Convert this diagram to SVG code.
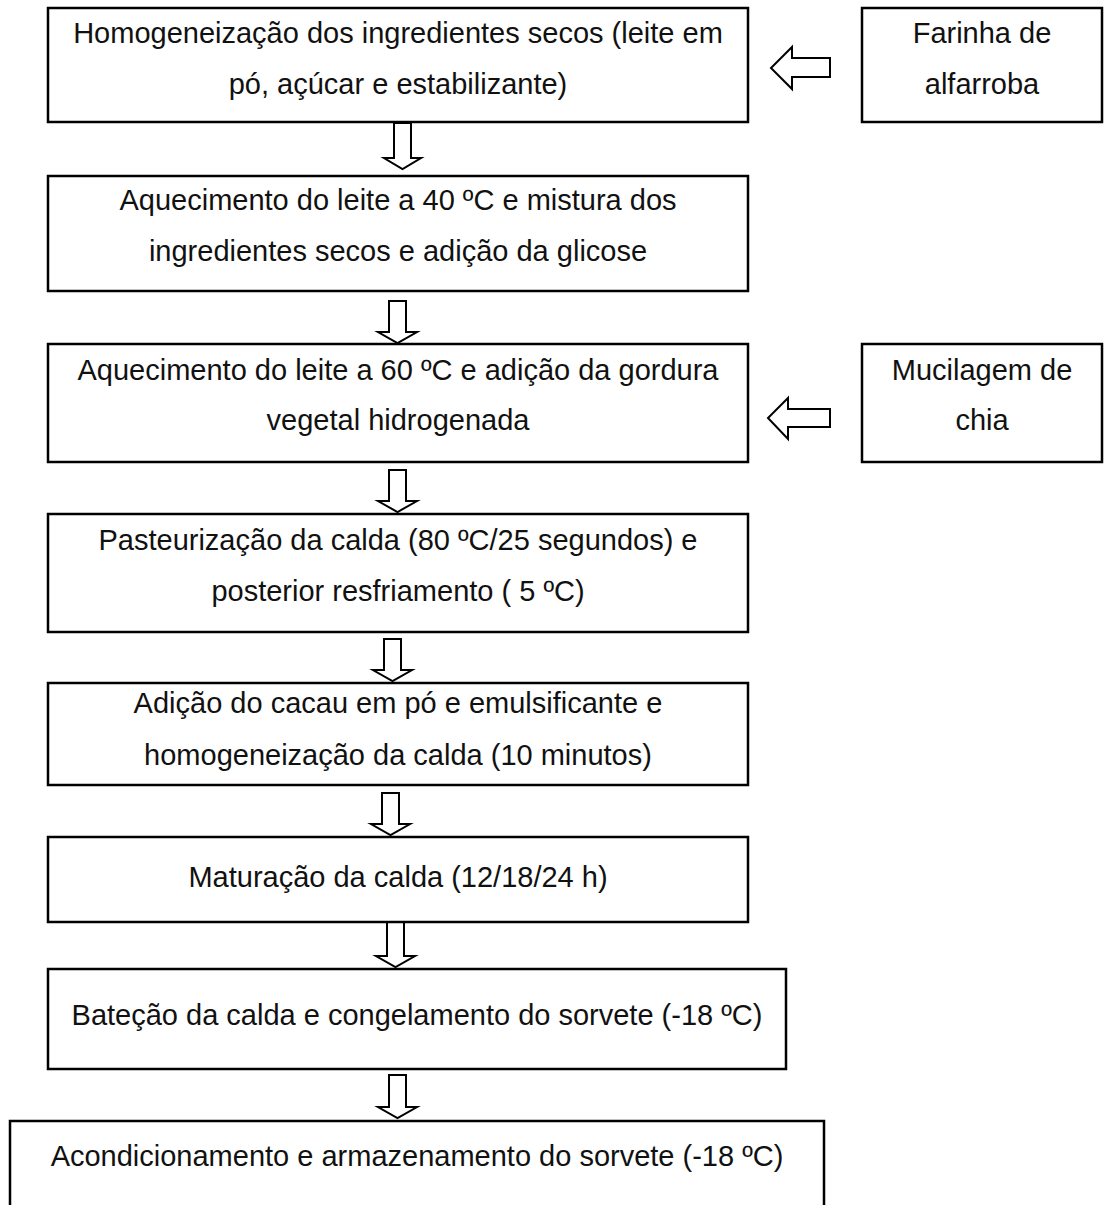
<svg xmlns="http://www.w3.org/2000/svg" width="1105" height="1205" viewBox="0 0 1105 1205">
<style>
.box{fill:#fff;stroke:#000;stroke-width:2.5}
.arr{fill:#fff;stroke:#000;stroke-width:2;stroke-linejoin:miter}
text{font-family:"Liberation Sans",Arial,sans-serif;font-size:29px;fill:#111;text-anchor:middle}
</style>
<rect width="1105" height="1205" fill="#fff"/>
<g id="connectors">
<polygon class="arr" points="394,123 411,123 411,158 421,158 402.5,169 384,158 394,158"/>
<polygon class="arr" points="389,301 406,301 406,332 417,332 397.5,343 378,332 389,332"/>
<polygon class="arr" points="389,470 406,470 406,501 417,501 397.5,512 378,501 389,501"/>
<polygon class="arr" points="384,639 401,639 401,670 412,670 392.5,681 373,670 384,670"/>
<polygon class="arr" points="382,793 399,793 399,824 410,824 390.5,835 371,824 382,824"/>
<polygon class="arr" points="387,922 404,922 404,956 415,956 395.5,967 376,956 387,956"/>
<polygon class="arr" points="389,1075 406,1075 406,1107 417,1107 397.5,1118 378,1107 389,1107"/>
<polygon class="arr" points="830,58 830,77 792,77 792,89 771,68 792,47 792,58"/>
<polygon class="arr" points="830,409 830,427 788,427 788,439 768,418 788,398 788,409"/>
</g>
<g id="n1"><rect class="box" x="48" y="8" width="700" height="114"/>
<text x="398" y="43">Homogeneização dos ingredientes secos (leite em</text>
<text x="398" y="94">pó, açúcar e estabilizante)</text></g>
<g id="n_farinha"><rect class="box" x="862" y="8" width="240" height="114"/>
<text x="982" y="43">Farinha de</text>
<text x="982" y="94">alfarroba</text></g>
<g id="n2"><rect class="box" x="48" y="176" width="700" height="115"/>
<text x="398" y="210">Aquecimento do leite a 40 ºC e mistura dos</text>
<text x="398" y="261">ingredientes secos e adição da glicose</text></g>
<g id="n3"><rect class="box" x="48" y="344" width="700" height="118"/>
<text x="398" y="380">Aquecimento do leite a 60 ºC e adição da gordura</text>
<text x="398" y="430">vegetal hidrogenada</text></g>
<g id="n_mucilagem"><rect class="box" x="862" y="344" width="240" height="118"/>
<text x="982" y="380">Mucilagem de</text>
<text x="982" y="430">chia</text></g>
<g id="n4"><rect class="box" x="48" y="514" width="700" height="118"/>
<text x="398" y="550">Pasteurização da calda (80 ºC/25 segundos) e</text>
<text x="398" y="601">posterior resfriamento ( 5 ºC)</text></g>
<g id="n5"><rect class="box" x="48" y="683" width="700" height="102"/>
<text x="398" y="713">Adição do cacau em pó e emulsificante e</text>
<text x="398" y="765">homogeneização da calda (10 minutos)</text></g>
<g id="n6"><rect class="box" x="48" y="837" width="700" height="85"/>
<text x="398" y="887">Maturação da calda (12/18/24 h)</text></g>
<g id="n7"><rect class="box" x="48" y="969" width="738" height="100"/>
<text x="417" y="1025">Bateção da calda e congelamento do sorvete (-18 ºC)</text></g>
<g id="n8"><rect class="box" x="10" y="1121" width="814" height="100"/>
<text x="417" y="1166">Acondicionamento e armazenamento do sorvete (-18 ºC)</text></g>
</svg>
